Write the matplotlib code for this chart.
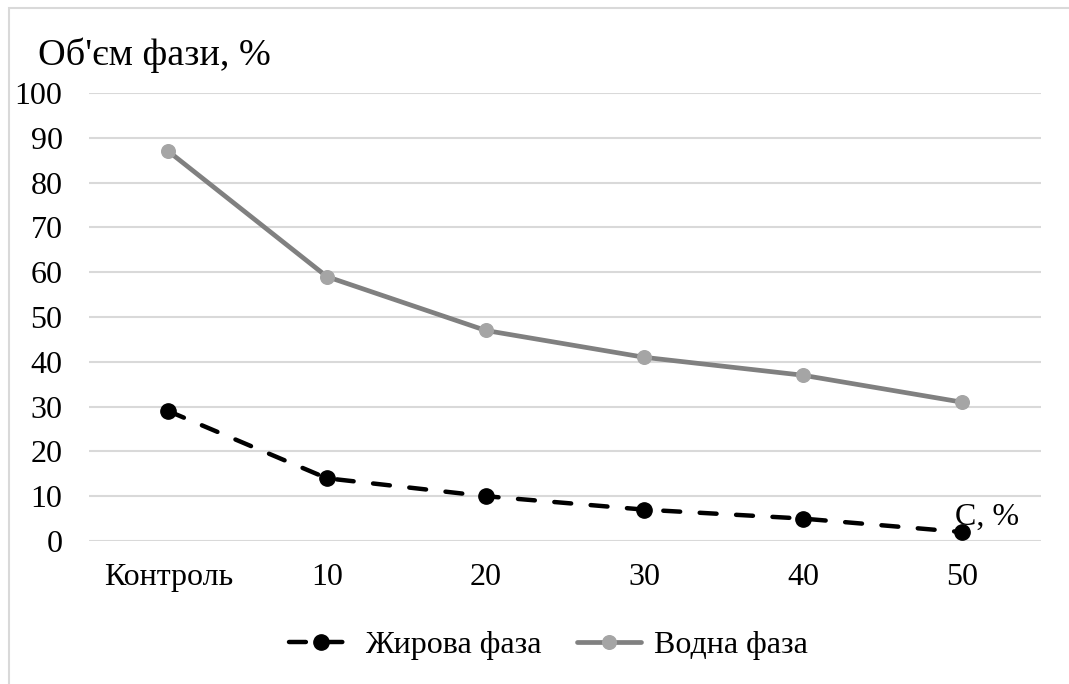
import matplotlib
matplotlib.use("Agg")
import matplotlib.pyplot as plt
from matplotlib.patches import Rectangle

plt.rcParams['font.family'] = ['Liberation Serif', 'DejaVu Serif']

categories = ["Контроль", "10", "20", "30", "40", "50"]
fat_phase = [29, 14, 10, 7, 5, 2]
water_phase = [87, 59, 47, 41, 37, 31]
y_ticks = [0, 10, 20, 30, 40, 50, 60, 70, 80, 90, 100]

W, H = 1069, 684
fig = plt.figure(figsize=(W / 100, H / 100), dpi=100)
fig.patch.set_facecolor("white")

# outer chart frame (top and left edges visible)
fig.add_artist(Rectangle((9 / W, -0.05), 1.2, (H - 8) / H + 0.05,
                         transform=fig.transFigure, fill=False,
                         edgecolor="#D9D9D9", linewidth=1.5))

ax = fig.add_axes([89 / W, (H - 541) / H, (1041 - 89) / W, 448 / H])
x = list(range(len(categories)))

ax.plot(x, fat_phase, color="black", linewidth=3.2, linestyle=(0, (3.8, 4.4)),
        dash_capstyle="round", marker="o", markersize=11,
        markerfacecolor="black", markeredgecolor="black",
        label="Жирова фаза", zorder=3)
ax.plot(x, water_phase, color="#808080", linewidth=3.4, solid_capstyle="round",
        marker="o", markersize=9.8, markerfacecolor="#A5A5A5",
        markeredgecolor="#A5A5A5", label="Водна фаза", zorder=3)

ax.set_xlim(-0.5, len(categories) - 0.5)
ax.set_ylim(0, 100)
ax.set_yticks(y_ticks)
ax.set_xticks(x)
ax.set_xticklabels(categories)
ax.tick_params(axis="both", length=0, labelsize=23, colors="black")
ax.tick_params(axis="y", pad=19)
ax.tick_params(axis="x", pad=16)
ax.grid(axis="y", color="#D9D9D9", linewidth=1.5)
ax.set_axisbelow(True)
for s in ax.spines.values():
    s.set_visible(False)

fig.text(38 / W, 1 - 55 / H, "Об'єм фази, %", fontsize=27.5, ha="left",
         va="center")
ax.text(4.96, 5.2, "С, %", fontsize=23, ha="left", va="center")

leg = fig.legend(loc="center", bbox_to_anchor=(548 / W, 1 - 645 / H),
                 ncol=2, frameon=False, fontsize=23, handlelength=2.0,
                 columnspacing=1.1, handletextpad=0.4)

fig.savefig("out.png", dpi=100, facecolor="white")
